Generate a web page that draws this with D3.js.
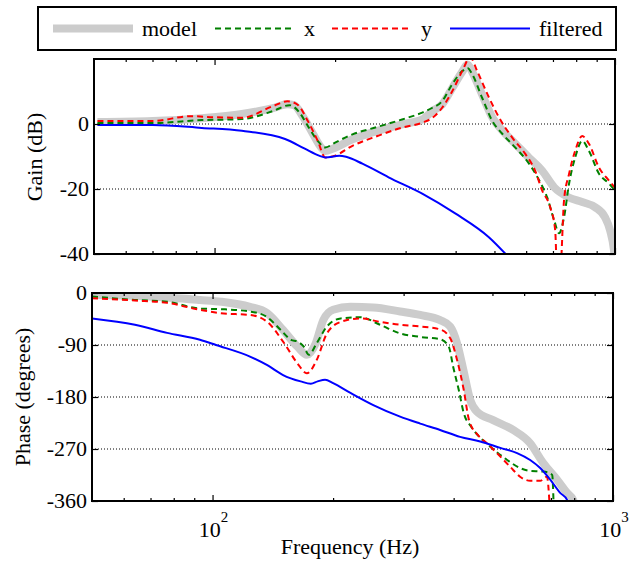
<!DOCTYPE html>
<html>
<head>
<style>
    body { margin: 0; background: #fff; }
    .frame { fill: none; stroke: #000; stroke-width: 2; }
    .grid { stroke: #000; stroke-width: 1; stroke-dasharray: 1,2; }
    .tick line { stroke: #000; stroke-width: 1.2; }
    .model { fill: none; stroke: #cccccc; stroke-width: 8; }
    .x { fill: none; stroke: #008000; stroke-width: 2; stroke-dasharray: 6,4; }
    .y { fill: none; stroke: #ff0000; stroke-width: 2; stroke-dasharray: 6,4; }
    .filtered { fill: none; stroke: #0000ff; stroke-width: 2; }
</style>
</head>
<body>
    <svg id="container" width="641" height="564"></svg>
<script src="https://d3js.org/d3.v7.min.js"></script>
<script>
    // [frequency Hz, gain dB]
    const modelGain = [[51,0.6],[70,0.9],[93,1.8],[117,3.1],[140,4.9],[152,6.1],[158,5.8],[166,2.4],[176,-3],[184,-7],[189,-8.3],
        [197,-7.6],[221,-4.7],[255,-2.1],[294,-0.1],[330,1.4],[350,4],[370,6],[392,11],[415,16],[428,18.3],[440,16],[466,9],
        [494,2],[523,-2],[563,-6],[610,-10.4],[658,-14.4],[705,-19.5],[767,-22.6],[828,-24],[892,-25.6],[944,-28.7],[972,-32.7],
        [994,-38.8],[1000,-42]];
    const xGain = [[51,0.3],[70,0.3],[93,1.2],[117,1.5],[140,4],[154,5.8],[163,3.5],[171,-0.6],[181,-5.2],[189,-7.2],[200,-5.7],
        [221,-3.2],[255,-0.9],[294,1.4],[330,3.5],[350,5],[370,7],[392,12.2],[415,16.2],[428,17.2],[440,15.3],[466,8],[494,0.9],
        [523,-3],[563,-7.2],[610,-12.2],[647,-17.4],[677,-22.6],[705,-29.7],[725,-33.6],[746,-28.7],[768,-18.3],[795,-10.4],
        [828,-5.2],[861,-8.3],[912,-15.3],[966,-18.3],[1000,-20.5]];
    const yGain = [[51,0.9],[70,0.9],[87,2.4],[99,2.1],[117,1.9],[140,5.5],[152,7],[161,6],[171,0.9],[181,-5.2],[189,-10.3],
        [199,-9.8],[221,-6.7],[255,-3.7],[294,-1.1],[330,0.4],[350,1.9],[370,5],[392,10],[415,16.2],[435,20.5],[453,16.2],
        [485,8],[514,1.9],[554,-4.2],[597,-9.2],[632,-14.4],[658,-20.5],[689,-25.6],[709,-32.7],[717,-46],[729,-46],
        [746,-23.5],[768,-15.3],[795,-8.3],[828,-3.7],[861,-6.1],[912,-13.4],[966,-17.4],[1000,-19.6]];
    const filteredGain = [[51,-0.3],[70,-0.3],[93,-1.2],[117,-2.1],[150,-4.6],[168,-7.6],[183,-9.8],[189,-10.3],[205,-9.8],
        [213,-10.1],[234,-12.2],[272,-16.4],[330,-21.4],[399,-27.5],[485,-34.9],[538,-40.5]];

    // [frequency Hz, phase degrees]
    const modelPhase = [[50,-3],[70,-6],[93,-12],[105,-15],[124,-24],[137,-35],[150,-64],[163,-93],[172,-107],[181,-87],
        [189,-47],[200,-29],[221,-24],[252,-25],[294,-32],[330,-38],[370,-47],[392,-58],[408,-87],[423,-133],[440,-185],
        [457,-205],[502,-220],[563,-237],[621,-260],[669,-294],[725,-323],[768,-346],[795,-358],[800,-365]];
    const xPhase = [[50,-6],[64,-12],[77,-15],[93,-27],[105,-28],[124,-32],[137,-42],[148,-64],[157,-81],[163,-84],[169,-93],
        [174,-107],[182,-87],[193,-58],[209,-44],[234,-42],[262,-55],[294,-70],[330,-76],[370,-80],[389,-93],[399,-128],
        [412,-168],[424,-208],[442,-231],[464,-249],[494,-266],[544,-289],[586,-303],[621,-308],[664,-309],[691,-311],
        [705,-315],[711,-370]];
    const yPhase = [[50,-9],[64,-13],[77,-17],[93,-29],[105,-35],[124,-38],[137,-50],[151,-87],[163,-122],[172,-139],
        [182,-116],[193,-70],[209,-50],[234,-44],[262,-50],[294,-55],[330,-58],[370,-63],[392,-78],[408,-116],[424,-168],
        [437,-220],[460,-246],[484,-260],[513,-277],[554,-301],[586,-318],[621,-325],[658,-325],[684,-318],[695,-370]];
    const filteredPhase = [[50,-44],[64,-55],[77,-69],[93,-81],[102,-90],[124,-110],[137,-125],[150,-142],[166,-153],
        [176,-157],[183,-153],[191,-150],[200,-156],[221,-173],[252,-194],[294,-214],[330,-226],[370,-237],[415,-249],
        [466,-257],[523,-268],[576,-277],[621,-289],[658,-303],[697,-323],[738,-346],[768,-358],[775,-365]];

    const freqDomain = [50, 1000];
    const majorFreqs = [100, 1000];
    const minorFreqs = [60, 70, 80, 90, 200, 300, 400, 500, 600, 700, 800, 900];
    const gainTicks = [0, -20, -40];
    const gainGrid = [0, -20];
    const phaseTicks = [0, -90, -180, -270, -360];
    const phaseGrid = [-90, -180, -270];
    const legendItems = [
        {name: "model", cls: "model"},
        {name: "x", cls: "x"},
        {name: "y", cls: "y"},
        {name: "filtered", cls: "filtered"}
    ];

    const FONT = "'Liberation Serif'";
    let svg = d3.select("#container");

    function label(sel, size) {
        return sel.style("font-family", FONT).style("font-size", size + "px").attr("fill", "#000");
    }

    function drawPanel(opts) {
        let x = d3.scaleLog().domain(freqDomain).range([opts.left, opts.right]);
        let y = d3.scaleLinear().domain(opts.yDomain).range([opts.bottom, opts.top]);
        let g = svg.append("g");

        g.append("clipPath").attr("id", opts.id)
            .append("rect")
            .attr("x", opts.left).attr("y", opts.top)
            .attr("width", opts.right - opts.left).attr("height", opts.bottom - opts.top);

        // dotted grid
        g.selectAll(".grid").data(opts.grid).enter().append("line")
            .attr("class", "grid")
            .attr("x1", opts.left).attr("x2", opts.right)
            .attr("y1", (d) => y(d)).attr("y2", (d) => y(d));

        // data
        let line = d3.line().x((d) => x(d[0])).y((d) => y(d[1])).curve(d3.curveMonotoneX);
        let plot = g.append("g").attr("clip-path", "url(#" + opts.id + ")");
        opts.series.forEach((s) => {
            plot.append("path").datum(s.data).attr("class", s.cls).attr("d", line);
        });

        // inward ticks on all four sides
        let addAxis = (axis, tx, ty) => {
            let a = g.append("g").attr("transform", "translate(" + tx + "," + ty + ")").call(axis);
            a.select(".domain").remove();
            a.selectAll("text").remove();
        };
        addAxis(d3.axisBottom(x).tickValues(minorFreqs).tickSize(-3), 0, opts.bottom);
        addAxis(d3.axisBottom(x).tickValues(majorFreqs).tickSize(-6), 0, opts.bottom);
        addAxis(d3.axisTop(x).tickValues(minorFreqs).tickSize(-3), 0, opts.top);
        addAxis(d3.axisTop(x).tickValues(majorFreqs).tickSize(-6), 0, opts.top);
        addAxis(d3.axisLeft(y).tickValues(opts.ticks).tickSize(-6), opts.left, 0);
        addAxis(d3.axisRight(y).tickValues(opts.ticks).tickSize(-6), opts.right, 0);

        // y tick labels
        label(g.selectAll(".ylab").data(opts.ticks).enter().append("text"), 22)
            .attr("x", opts.left - 5)
            .attr("y", (d) => y(d) + 7)
            .attr("text-anchor", "end")
            .text((d) => d);

        g.append("rect").attr("class", "frame")
            .attr("x", opts.left).attr("y", opts.top)
            .attr("width", opts.right - opts.left).attr("height", opts.bottom - opts.top);

        label(g.append("text"), 22)
            .attr("transform", "translate(" + opts.labelX + "," + opts.labelY + ") rotate(-90)")
            .attr("text-anchor", "middle")
            .text(opts.label);

        return x;
    }

    drawPanel({
        id: "clipGain", left: 94, right: 615, top: 59, bottom: 254,
        yDomain: [-40, 20], ticks: gainTicks, grid: gainGrid,
        label: "Gain (dB)", labelX: 42, labelY: 157,
        series: [
            {cls: "model", data: modelGain},
            {cls: "x", data: xGain},
            {cls: "y", data: yGain},
            {cls: "filtered", data: filteredGain}
        ]
    });

    let xPh = drawPanel({
        id: "clipPhase", left: 92, right: 613, top: 293, bottom: 501,
        yDomain: [-360, 0], ticks: phaseTicks, grid: phaseGrid,
        label: "Phase (degrees)", labelX: 30, labelY: 397,
        series: [
            {cls: "model", data: modelPhase},
            {cls: "x", data: xPhase},
            {cls: "y", data: yPhase},
            {cls: "filtered", data: filteredPhase}
        ]
    });

    // x tick labels 10^2, 10^3
    majorFreqs.forEach((f) => {
        let t = label(svg.append("text"), 22)
            .attr("x", xPh(f) + 1)
            .attr("y", 537)
            .attr("text-anchor", "middle");
        t.append("tspan").text("10");
        t.append("tspan").attr("dy", -15).style("font-size", "15px").text(Math.round(Math.log10(f)));
    });

    label(svg.append("text"), 22)
        .attr("x", 350).attr("y", 554)
        .attr("text-anchor", "middle")
        .text("Frequency (Hz)");

    // legend
    let legend = svg.append("g");
    legend.append("rect").attr("class", "frame")
        .attr("x", 38).attr("y", 7).attr("width", 578).attr("height", 43);
    let legendX = [53, 215, 332, 450];
    legendItems.forEach((d, i) => {
        legend.append("line").attr("class", d.cls)
            .attr("x1", legendX[i]).attr("x2", legendX[i] + 80)
            .attr("y1", 28.5).attr("y2", 28.5);
        label(legend.append("text"), 22)
            .attr("x", legendX[i] + 89).attr("y", 36)
            .text(d.name);
    });
</script>
</body>
</html>
